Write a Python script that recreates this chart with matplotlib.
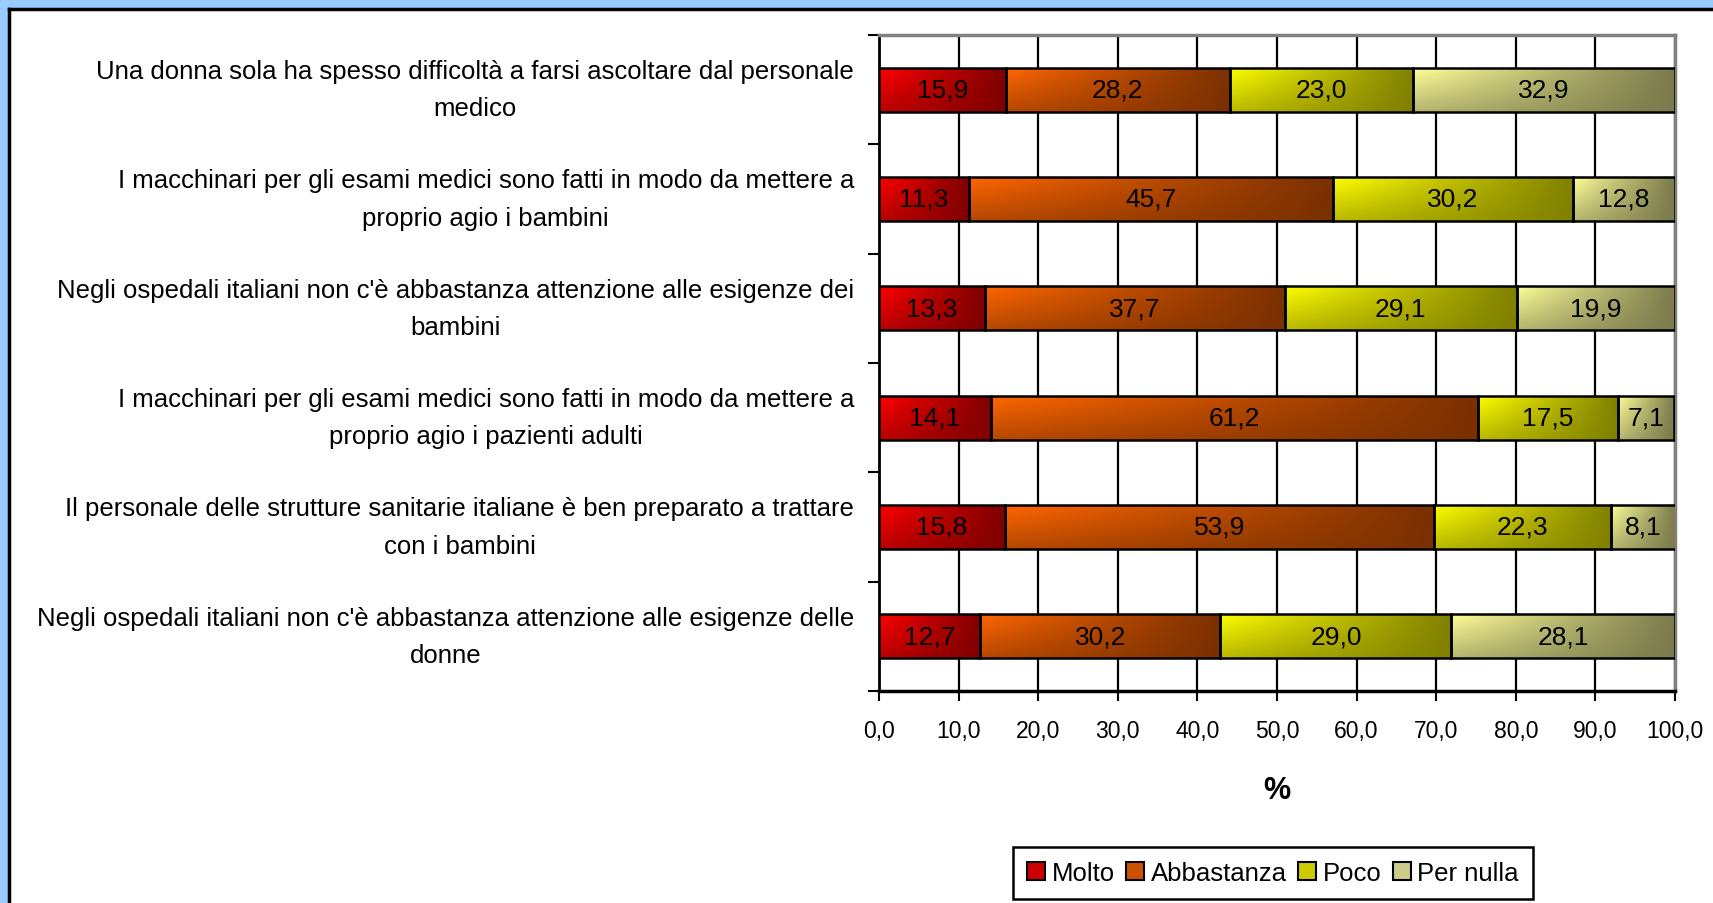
import numpy as np
import matplotlib
matplotlib.use('Agg')
import matplotlib.pyplot as plt
from matplotlib.patches import Rectangle, Patch
from matplotlib.lines import Line2D

plt.rcParams['font.family'] = ['Liberation Sans', 'DejaVu Sans']

# questions, top to bottom
questions = [
    "Una donna sola ha spesso difficoltà a farsi ascoltare dal personale\nmedico",
    "I macchinari per gli esami medici sono fatti in modo da mettere a\nproprio agio i bambini",
    "Negli ospedali italiani non c'è abbastanza attenzione alle esigenze dei\nbambini",
    "I macchinari per gli esami medici sono fatti in modo da mettere a\nproprio agio i pazienti adulti",
    "Il personale delle strutture sanitarie italiane è ben preparato a trattare\ncon i bambini",
    "Negli ospedali italiani non c'è abbastanza attenzione alle esigenze delle\ndonne",
]
series_names = ['Molto', 'Abbastanza', 'Poco', 'Per nulla']
molto = [15.9, 11.3, 13.3, 14.1, 15.8, 12.7]
abbastanza = [28.2, 45.7, 37.7, 61.2, 53.9, 30.2]
poco = [23.0, 30.2, 29.1, 17.5, 22.3, 29.0]
per_nulla = [32.9, 12.8, 19.9, 7.1, 8.1, 28.1]
x_ticks = [0, 10, 20, 30, 40, 50, 60, 70, 80, 90, 100]
x_ticklabels = ['0,0', '10,0', '20,0', '30,0', '40,0', '50,0', '60,0',
                '70,0', '80,0', '90,0', '100,0']

# light (left/top) and dark (right/bottom) end of each gradient
light = ['#ff0000', '#ff6600', '#ffff00', '#ffff99']
dark = ['#800000', '#7a3000', '#808000', '#7a7a4c']
legend_col = ['#cc0000', '#cc5200', '#cccc00', '#cccc8a']

W, H = 1713, 904
fig = plt.figure(figsize=(W / 100, H / 100), dpi=100)
fig.patch.set_facecolor('#99ccff')

# white panel with black top/left border
fig.patches.append(Rectangle((9 / W, 0), 1, 1 - 10 / H, transform=fig.transFigure,
                             facecolor='white', edgecolor='none', zorder=-5))
fig.lines.append(Line2D([9 / W, 1], [1 - 10 / H, 1 - 10 / H], transform=fig.transFigure,
                        color='black', lw=2.5, zorder=-4))
fig.lines.append(Line2D([9 / W, 9 / W], [0, 1 - 10 / H], transform=fig.transFigure,
                        color='black', lw=2.5, zorder=-4))

ax = fig.add_axes([879 / W, 1 - 692 / H, (1675 - 879) / W, (692 - 36) / H])
ax.set_facecolor('none')

ypos = np.arange(len(questions))[::-1]
data = [molto, abbastanza, poco, per_nulla]
left = np.zeros(len(questions))
bar_h = 0.4

gx = np.linspace(0, 1, 200)[None, :]
gy = np.linspace(0, 1, 40)[:, None]
tmix = 1 - (1 - gx) * (1 - 0.55 * gy)

for k, vals in enumerate(data):
    vals = np.array(vals)
    bars = ax.barh(ypos, vals, left=left, height=bar_h, facecolor='none',
                   edgecolor='black', linewidth=1.8, zorder=4)
    c0 = np.array(matplotlib.colors.to_rgb(light[k]))
    c1 = np.array(matplotlib.colors.to_rgb(dark[k]))
    img = c0[None, None, :] * (1 - tmix[..., None]) + c1[None, None, :] * tmix[..., None]
    for b, v in zip(bars, vals):
        x0, y0, w, h = b.get_x(), b.get_y(), b.get_width(), b.get_height()
        im = ax.imshow(img, extent=(x0, x0 + w, y0, y0 + h), origin='upper',
                       aspect='auto', interpolation='bilinear', zorder=3)
        ax.text(x0 + w / 2, y0 + h / 2, f"{v:.1f}".replace('.', ','),
                ha='center', va='center', fontsize=19, zorder=5)
    left += vals

ax.set_xlim(0, 100)
ax.set_ylim(-0.5, len(questions) - 0.5)

ax.set_xticks(x_ticks)
ax.set_xticklabels(x_ticklabels)
ax.tick_params(axis='x', length=7, width=1.5, direction='out', pad=13, labelsize=16.5)
ax.grid(axis='x', color='black', linewidth=1.6, zorder=1)
ax.set_axisbelow(True)

ax.set_yticks(ypos)
ax.set_yticklabels(questions, multialignment='center', linespacing=1.7, va='center')
ax.tick_params(axis='y', length=0, pad=18, labelsize=18.5)
ax.set_yticks(np.arange(-0.5, len(questions), 1), minor=True)
ax.tick_params(axis='y', which='minor', length=8, width=1.5, direction='out')

ax.spines['top'].set_color('#808080')
ax.spines['right'].set_color('#808080')
ax.spines['top'].set_linewidth(2.5)
ax.spines['right'].set_linewidth(2.5)
ax.spines['left'].set_linewidth(2)
ax.spines['bottom'].set_linewidth(2.5)

ax.set_xlabel('%', fontsize=22, fontweight='bold', labelpad=24)

handles = [Patch(facecolor=legend_col[i], edgecolor='black', linewidth=1.5)
           for i in range(len(series_names))]
leg = fig.legend(handles, series_names, loc='center', bbox_to_anchor=(1273 / W, 1 - 874 / H),
                 ncol=4, fontsize=18.5, frameon=True, fancybox=False, edgecolor='black',
                 framealpha=1, handlelength=0.7, handleheight=0.7, handletextpad=0.25,
                 columnspacing=0.45, borderpad=0.55)
leg.get_frame().set_linewidth(1.8)

fig.savefig('out.png', dpi=100, facecolor=fig.get_facecolor())
